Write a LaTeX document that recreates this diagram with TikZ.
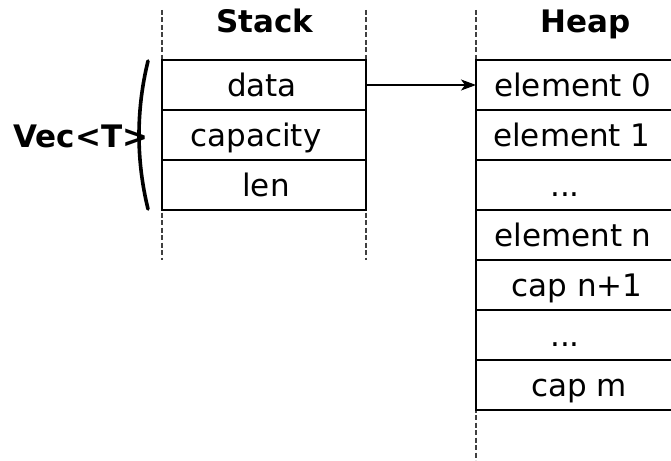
\documentclass[tikz,border=0pt]{standalone}
\usepackage{fontspec}
\setmainfont{DejaVu Sans}
\usetikzlibrary{arrows.meta}
\begin{document}
\begin{tikzpicture}[
  cell/.style={line width=1.3pt, draw=black},
  guide/.style={line width=1.2pt, draw=black!75, dash pattern=on 5pt off 2.5pt},
  txt/.style={anchor=base, inner sep=0pt, font=\fontsize{31}{36}\selectfont},
  head/.style={txt, font=\fontsize{31}{36}\selectfont\bfseries},
  ptr/.style={line width=1.3pt, -{Stealth[length=15pt,width=11pt,inset=4pt]}},
  brace/.style={line width=3.6pt, line cap=round}]
% all positions are given in pt, measured downwards from the top edge
\begin{scope}[x=1pt,y=-1pt]
\useasboundingbox (0,0) rectangle (671,460);

% column guides
\draw[guide] (162,10) -- (162,260);
\draw[guide] (366,10) -- (366,260);
\draw[guide] (476,10) -- (476,460);

% column titles
\node[head] (stackT) at (265,33) {Stack};
\node[head] (heapT) at (586,33) {Heap};

% stack frame: Vec<T> fields
\draw[cell] (162,60) rectangle (366,110);
\draw[cell] (162,110) rectangle (366,160);
\draw[cell] (162,160) rectangle (366,210);
\node[txt] (data) at (262,96) {data};
\node[txt] (cap) at (256,146) {capacity};
\node[txt] (len) at (266,196) {len};

% heap buffer
\foreach \y in {60,110,...,360}
  \draw[cell] (700,\y) -- (476,\y) -- (476,\y+50) -- (700,\y+50);
\node[txt] (e0) at (573,96) {element 0};
\node[txt] (e1) at (572,146) {element 1};
\node[txt] (d1) at (565,196) {...};
\node[txt] (en) at (573,246) {element n};
\node[txt] (c1) at (577,296) {cap n+1};
\node[txt] (d2) at (565,346) {...};
\node[txt] (cm) at (579,396) {cap m};

% pointer from data to first element
\coordinate (pstart) at (366,85);
\coordinate (pend) at (476,85);
\draw[ptr] (pstart) -- (pend);

% grouping brace and type label
\coordinate (bt) at (148,61);
\coordinate (bb) at (148,209);
\draw[brace] (bt) .. controls (136,110) and (136,160) .. (bb);
\node[head] (vec) at (81,147) {Vec<T>};
\end{scope}
\end{tikzpicture}
\end{document}
